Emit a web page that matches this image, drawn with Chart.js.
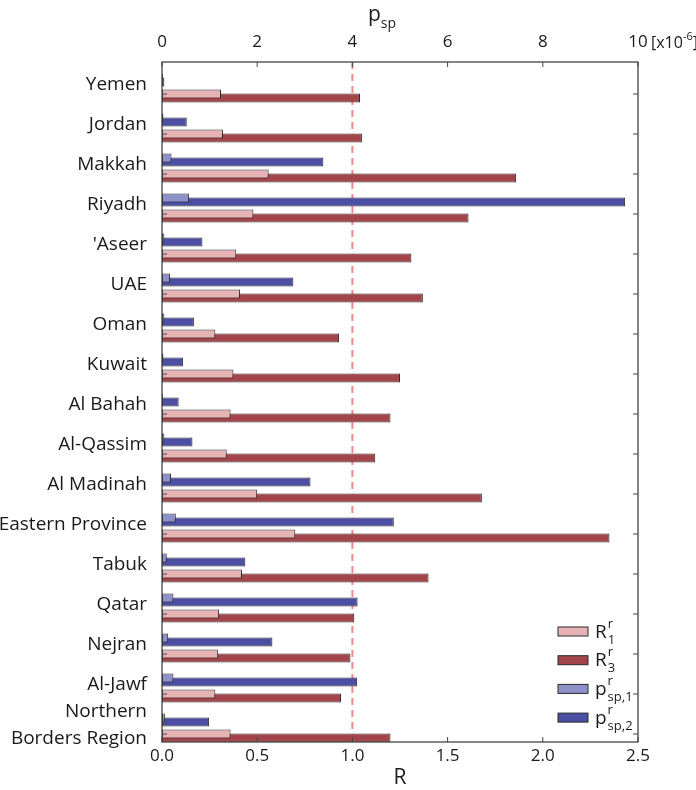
<!DOCTYPE html>
<html>
<head>
<meta charset="utf-8">
<script src="https://cdn.jsdelivr.net/npm/chart.js@4"></script>
<style>body{margin:0;background:#fff}</style>
</head>
<body>
<canvas id="chart" width="696" height="790"></canvas>
<script>
// regions, top to bottom
const regions = ['Yemen', 'Jordan', 'Makkah', 'Riyadh', "'Aseer", 'UAE', 'Oman', 'Kuwait', 'Al Bahah',
  'Al-Qassim', 'Al Madinah', 'Eastern Province', 'Tabuk', 'Qatar', 'Nejran', 'Al-Jawf',
  ['Northern', 'Borders Region']];

// R values (bottom axis)
const R1 = [0.31, 0.32, 0.56, 0.48, 0.39, 0.41, 0.28, 0.375, 0.36, 0.34, 0.50, 0.70, 0.42, 0.30, 0.295, 0.28, 0.36];
const R3 = [1.04, 1.05, 1.86, 1.61, 1.31, 1.37, 0.93, 1.25, 1.20, 1.12, 1.68, 2.35, 1.40, 1.01, 0.99, 0.94, 1.20];
// p_sp values in units of 1e-6 (top axis)
const pSp1 = [0.02, 0.03, 0.20, 0.57, 0.05, 0.17, 0.05, 0.03, 0.02, 0.05, 0.19, 0.29, 0.10, 0.24, 0.13, 0.24, 0.06];
const pSp2 = [0.05, 0.52, 3.39, 9.73, 0.85, 2.76, 0.67, 0.44, 0.35, 0.64, 3.12, 4.87, 1.75, 4.11, 2.32, 4.10, 0.99];

const unityR = 1.0;
const FONT = "'Open Sans', sans-serif";
const TXT = '#1a1a1a';
const EDGE = '#2b2b2b';

const bar = (data, color, axis) => ({
  data, xAxisID: axis, backgroundColor: color, borderColor: EDGE, borderWidth: 1, borderSkipped: false
});
// empty slots so the pairs sit where they do in the figure
const spacer = () => ({ data: [], xAxisID: 'x' });

const sets = [
  spacer(), spacer(), spacer(),
  bar(pSp1, '#8e91c7', 'x2'),
  bar(pSp2, '#4a4fa3', 'x2'),
  spacer(), spacer(),
  bar(R1, '#e6b3b6', 'x'),
  bar(R3, '#a3454a', 'x')
];

const legendItems = [
  { ds: 7, base: 'R', sup: 'r', sub: '1' },
  { ds: 8, base: 'R', sup: 'r', sub: '3' },
  { ds: 3, base: 'p', sup: 'r', sub: 'sp,1' },
  { ds: 4, base: 'p', sup: 'r', sub: 'sp,2' }
];

const decor = {
  id: 'decor',
  beforeDatasetsDraw(chart) {
    const { ctx, chartArea: a, scales } = chart;
    const x1 = scales.x.getPixelForValue(unityR);
    ctx.save();
    ctx.strokeStyle = '#f08a8a';
    ctx.lineWidth = 2;
    ctx.setLineDash([7, 5]);
    ctx.beginPath();
    ctx.moveTo(x1, a.top);
    ctx.lineTo(x1, a.bottom);
    ctx.stroke();
    ctx.restore();
  },
  afterDraw(chart) {
    const { ctx, chartArea: a, scales } = chart;
    ctx.save();
    // frame
    ctx.strokeStyle = '#444';
    ctx.lineWidth = 1.3;
    ctx.strokeRect(a.left, a.top, a.right - a.left, a.bottom - a.top);
    // inward ticks
    ctx.lineWidth = 1;
    ctx.beginPath();
    scales.x.ticks.forEach(t => {
      const x = scales.x.getPixelForValue(t.value);
      ctx.moveTo(x, a.bottom); ctx.lineTo(x, a.bottom - 5);
    });
    scales.x2.ticks.forEach(t => {
      const x = scales.x2.getPixelForValue(t.value);
      ctx.moveTo(x, a.top); ctx.lineTo(x, a.top + 5);
    });
    chart.getDatasetMeta(7).data.forEach(el => {
      ctx.moveTo(a.left, el.y); ctx.lineTo(a.left + 5, el.y);
      ctx.moveTo(a.right, el.y); ctx.lineTo(a.right - 5, el.y);
    });
    ctx.stroke();

    ctx.fillStyle = TXT;
    ctx.textBaseline = 'alphabetic';
    // axis titles
    const cx = (a.left + a.right) / 2;
    ctx.textAlign = 'left';
    ctx.font = `21px ${FONT}`;
    const pw = ctx.measureText('p').width;
    ctx.fillText('p', cx - 32, 21);
    ctx.font = `14px ${FONT}`;
    ctx.fillText('sp', cx - 32 + pw, 28);
    ctx.textAlign = 'center';
    ctx.font = `21px ${FONT}`;
    ctx.fillText('R', cx, 784);
    // exponent note on top axis
    const x10 = scales.x2.getPixelForValue(10);
    ctx.textAlign = 'left';
    ctx.font = `16px ${FONT}`;
    let tx = x10 + 13;
    ctx.fillText('[x10', tx, 48);
    tx += ctx.measureText('[x10').width;
    ctx.font = `11px ${FONT}`;
    ctx.fillText('-6', tx, 40);
    tx += ctx.measureText('-6').width;
    ctx.font = `16px ${FONT}`;
    ctx.fillText(']', tx, 48);

    // legend
    legendItems.forEach((it, k) => {
      const ds = chart.data.datasets[it.ds];
      const cy = a.bottom - 110.5 + k * 28.7;
      const bx = a.right - 80;
      ctx.fillStyle = ds.backgroundColor;
      ctx.fillRect(bx, cy - 4.5, 30, 9);
      ctx.strokeStyle = EDGE;
      ctx.lineWidth = 1;
      ctx.strokeRect(bx, cy - 4.5, 30, 9);
      ctx.fillStyle = TXT;
      ctx.font = `19px ${FONT}`;
      const lx = a.right - 43;
      const base = cy + 6;
      ctx.fillText(it.base, lx, base);
      const w = ctx.measureText(it.base).width;
      ctx.font = `13px ${FONT}`;
      ctx.fillText(it.sup, lx + w + 1, base - 10);
      ctx.fillText(it.sub, lx + w + 1, base + 6);
    });
    ctx.restore();
  }
};

new Chart(document.getElementById('chart'), {
  type: 'bar',
  data: { labels: regions, datasets: sets },
  options: {
    indexAxis: 'y',
    responsive: false,
    animation: false,
    devicePixelRatio: 1,
    categoryPercentage: 0.9,
    barPercentage: 2.2,
    layout: { padding: { left: 0, right: 58, top: 0, bottom: 0 } },
    plugins: { legend: { display: false }, tooltip: { enabled: false } },
    scales: {
      y: {
        type: 'category',
        stacked: false,
        offset: true,
        grid: { display: false },
        border: { display: false },
        ticks: { color: TXT, padding: 7, autoSkip: false, labelOffset: 3,
          font: { family: FONT, size: 19, lineHeight: 1.42 } },
        afterFit: s => { s.width = 162; }
      },
      x: {
        position: 'bottom',
        min: 0, max: 2.5,
        grid: { display: false, drawTicks: false },
        border: { display: false },
        ticks: { stepSize: 0.5, color: TXT, padding: 4, maxRotation: 0, autoSkip: false,
          font: { family: FONT, size: 17 }, callback: v => v.toFixed(1) },
        afterFit: s => { s.height = 48; }
      },
      x2: {
        position: 'top',
        min: 0, max: 10,
        grid: { display: false, drawTicks: false },
        border: { display: false },
        ticks: { stepSize: 2, color: TXT, padding: 10, maxRotation: 0, autoSkip: false,
          font: { family: FONT, size: 17 } },
        afterFit: s => { s.height = 62; }
      }
    }
  },
  plugins: [decor]
});
</script>
</body>
</html>
